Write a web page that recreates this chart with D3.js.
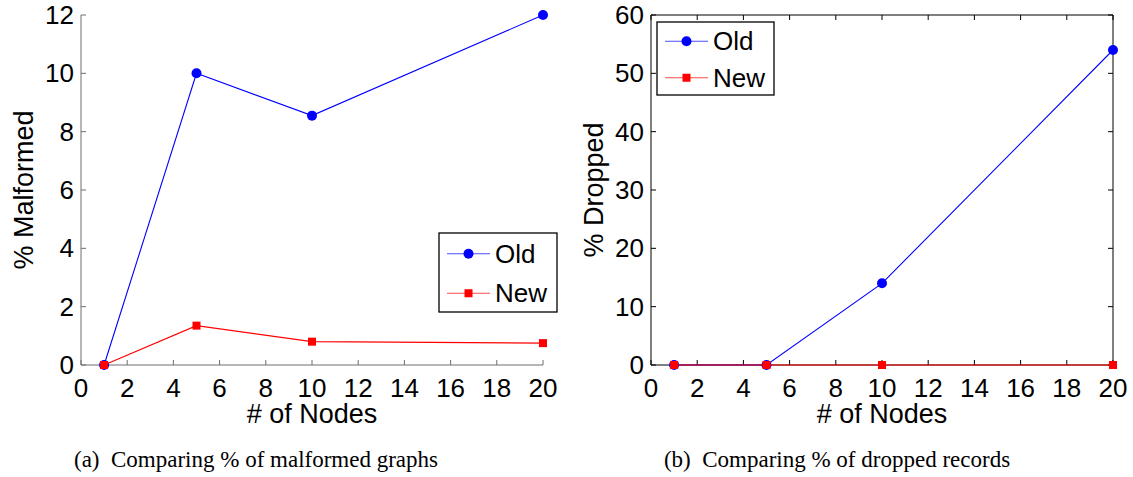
<!DOCTYPE html>
<html>
<head>
<meta charset="utf-8">
<script src="https://cdn.jsdelivr.net/npm/d3@7"></script>
<style>
body { margin: 0; background: #fff; }
svg text { font-family: "Liberation Sans", Arial, sans-serif; }
</style>
</head>
<body>
<svg id="chart" width="1133" height="477"></svg>
<script>
// Data
var nodes = [1, 5, 10, 20];
var malformed_old = [0, 10, 8.55, 12];
var malformed_new = [0, 1.35, 0.8, 0.75];
var dropped_old = [0, 0, 14, 54];
var dropped_new = [0, 0, 0, 0];
var x_ticks = [0, 2, 4, 6, 8, 10, 12, 14, 16, 18, 20];
var y_ticks_a = [0, 2, 4, 6, 8, 10, 12];
var y_ticks_b = [0, 10, 20, 30, 40, 50, 60];
var series_names = ['Old', 'New'];
var captions = ['(a)  Comparing % of malformed graphs', '(b)  Comparing % of dropped records'];

var svg = d3.select('#chart');

// Draws one panel
function panel(opt) {
    var g = svg.append('g');
    var x = d3.scaleLinear().domain([0, 20]).range([opt.left, opt.left + 462]);
    var y = d3.scaleLinear().domain([0, opt.ymax]).range([365, 15]);
    var axis_color = opt.box ? '#000' : '#6e6e6e';

    // Axis lines
    g.append('line').attr('x1', x(0)).attr('x2', x(20)).attr('y1', y(0)).attr('y2', y(0))
        .attr('stroke', axis_color);
    g.append('line').attr('x1', x(0)).attr('x2', x(0)).attr('y1', y(0)).attr('y2', y(opt.ymax))
        .attr('stroke', axis_color);
    if (opt.box) {
        g.append('line').attr('x1', x(0)).attr('x2', x(20)).attr('y1', y(opt.ymax)).attr('y2', y(opt.ymax))
            .attr('stroke', axis_color);
        g.append('line').attr('x1', x(20)).attr('x2', x(20)).attr('y1', y(0)).attr('y2', y(opt.ymax))
            .attr('stroke', axis_color);
    }

    // Ticks (inward)
    x_ticks.forEach(function (t) {
        g.append('line').attr('x1', x(t)).attr('x2', x(t)).attr('y1', y(0)).attr('y2', y(0) - 5)
            .attr('stroke', axis_color);
        if (opt.box) {
            g.append('line').attr('x1', x(t)).attr('x2', x(t)).attr('y1', y(opt.ymax)).attr('y2', y(opt.ymax) + 5)
                .attr('stroke', axis_color);
        }
        g.append('text').attr('x', x(t)).attr('y', 397).attr('text-anchor', 'middle')
            .attr('font-size', 26).text(t);
    });
    opt.yticks.forEach(function (t) {
        g.append('line').attr('x1', x(0)).attr('x2', x(0) + 5).attr('y1', y(t)).attr('y2', y(t))
            .attr('stroke', axis_color);
        if (opt.box) {
            g.append('line').attr('x1', x(20)).attr('x2', x(20) - 5).attr('y1', y(t)).attr('y2', y(t))
                .attr('stroke', axis_color);
        }
        g.append('text').attr('x', x(0) - 7).attr('y', y(t) + 9).attr('text-anchor', 'end')
            .attr('font-size', 26).text(t);
    });

    // Axis titles
    g.append('text').attr('x', x(10)).attr('y', 423).attr('text-anchor', 'middle')
        .attr('font-size', 27).text('# of Nodes');
    g.append('text').attr('transform', 'translate(' + (opt.left - 48) + ',190) rotate(-90)')
        .attr('text-anchor', 'middle').attr('font-size', 27).text(opt.ylabel);

    // Caption
    g.append('text').attr('x', opt.capX).attr('y', 467).attr('text-anchor', 'middle')
        .style('font-family', '"Liberation Serif", "Times New Roman", serif')
        .style('white-space', 'pre')
        .attr('font-size', 23).text(opt.caption);

    var line = d3.line()
        .x(function (d, i) { return x(nodes[i]); })
        .y(function (d) { return y(d); });

    // Old series
    g.append('path').datum(opt.old).attr('d', line).attr('fill', 'none')
        .attr('stroke', '#0000ff').attr('stroke-width', 1.1);
    g.selectAll('circle.old').data(opt.old).enter().append('circle')
        .attr('cx', function (d, i) { return x(nodes[i]); })
        .attr('cy', function (d) { return y(d); })
        .attr('r', 5).attr('fill', '#0000ff');

    // New series
    g.append('path').datum(opt.neu).attr('d', line).attr('fill', 'none')
        .attr('stroke', '#ff0000').attr('stroke-width', 1.1);
    g.selectAll('rect.new').data(opt.neu).enter().append('rect')
        .attr('x', function (d, i) { return x(nodes[i]) - 4; })
        .attr('y', function (d) { return y(d) - 4; })
        .attr('width', 8).attr('height', 8).attr('fill', '#ff0000');

    // Legend
    var lg = g.append('g').attr('transform', 'translate(' + opt.legend[0] + ',' + opt.legend[1] + ')');
    lg.append('rect').attr('x', 0).attr('y', 0).attr('width', opt.legend[2]).attr('height', opt.legend[3])
        .attr('fill', '#fff').attr('stroke', '#000').attr('stroke-width', 1.3);
    var row = opt.legend[3] / 2;
    series_names.forEach(function (name, i) {
        var cy = row * 0.5 + i * row + 1;
        var col = i === 0 ? '#0000ff' : '#ff0000';
        lg.append('line').attr('x1', 8).attr('x2', 51).attr('y1', cy).attr('y2', cy)
            .attr('stroke', col).attr('stroke-opacity', 0.7);
        if (i === 0) {
            lg.append('circle').attr('cx', 29.5).attr('cy', cy).attr('r', 5).attr('fill', col);
        } else {
            lg.append('rect').attr('x', 25.5).attr('y', cy - 4).attr('width', 8).attr('height', 8).attr('fill', col);
        }
        lg.append('text').attr('x', 56).attr('y', cy + 9).attr('font-size', 26).text(name);
    });
}

panel({ left: 81, ymax: 12, yticks: y_ticks_a, box: false, ylabel: '% Malformed',
    old: malformed_old, neu: malformed_new, caption: captions[0], capX: 256,
    legend: [439, 233, 118, 79] });
panel({ left: 651, ymax: 60, yticks: y_ticks_b, box: true, ylabel: '% Dropped',
    old: dropped_old, neu: dropped_new, caption: captions[1], capX: 837,
    legend: [657, 22, 117, 73] });
</script>
</body>
</html>
